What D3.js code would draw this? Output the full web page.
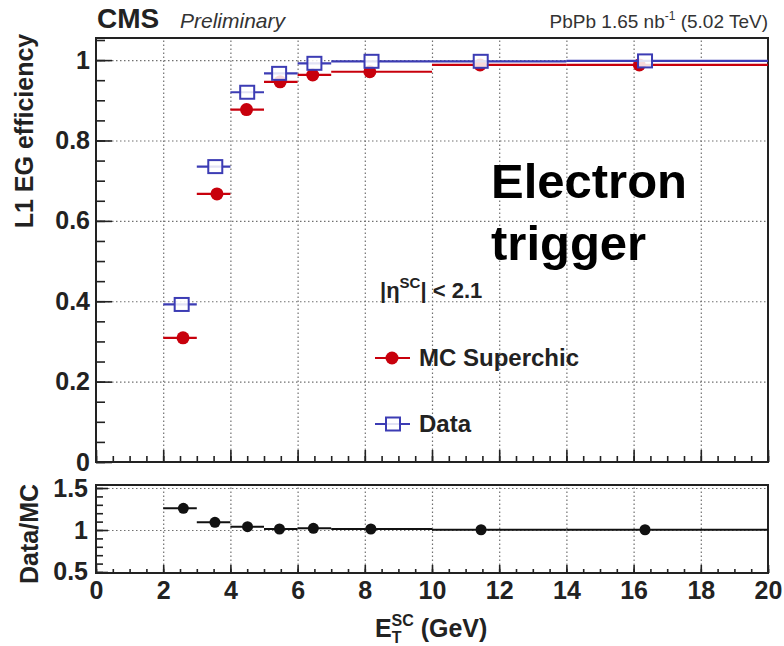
<!DOCTYPE html>
<html lang="en">
  <head>
    <meta charset="UTF-8" />
    <title>L1 EG efficiency</title>
    <script src="https://d3js.org/d3.v7.min.js"></script>
    <style>
      body {
        margin: 0;
        background-color: #ffffff;
        font-family: "Liberation Sans", Arial, sans-serif;
      }
      .grid line {
        stroke: #707070;
        stroke-width: 1.2;
        stroke-dasharray: 1.5, 2.5;
      }
      .tick text {
        font-family: "Liberation Sans", Arial, sans-serif;
        font-weight: bold;
        font-size: 25px;
        fill: #222;
      }
    </style>
  </head>
  <body>
    <div id="my_dataviz"></div>
    <script>
      // bins in E_T (GeV)
      var binLow = [2, 3, 4, 5, 6, 7, 10, 14];
      var binHigh = [3, 4, 5, 6, 7, 10, 14, 20];

      // MC Superchic efficiency
      var mcX = [2.59, 3.6, 4.48, 5.48, 6.45, 8.15, 11.43, 16.17];
      var mcEff = [0.309, 0.667, 0.877, 0.946, 0.963, 0.971, 0.988, 0.988];

      // Data efficiency
      var dataX = [2.55, 3.55, 4.5, 5.45, 6.5, 8.2, 11.45, 16.34];
      var dataEff = [0.392, 0.735, 0.92, 0.967, 0.992, 0.997, 0.997, 0.998];

      // Data / MC
      var ratioX = [2.6, 3.54, 4.51, 5.46, 6.47, 8.18, 11.46, 16.34];
      var ratio = [1.258, 1.092, 1.04, 1.012, 1.02, 1.012, 1.003, 1.003];

      var xTicks = [0, 2, 4, 6, 8, 10, 12, 14, 16, 18, 20];
      var effTicks = [0, 0.2, 0.4, 0.6, 0.8, 1];
      var ratioTicks = [0.5, 1, 1.5];

      var width = 784, height = 646;
      var left = 96, right = 768;
      var top1 = 38, bottom1 = 462;
      var top2 = 485, bottom2 = 573;

      var red = "#c8000c", blue = "#3c3cb4";

      var svg = d3
        .select("#my_dataviz")
        .append("svg")
        .attr("width", width)
        .attr("height", height);

      var x = d3.scaleLinear().domain([0, 20]).range([left, right]);
      var y = d3.scaleLinear().domain([0, 1.055]).range([bottom1, top1]);
      var yr = d3.scaleLinear().domain([0.488, 1.536]).range([bottom2, top2]);

      var minorX = d3.range(0, 20.01, 0.5);
      var minorEff = d3.range(0, 1.051, 0.05);
      var minorRatio = d3.range(0.5, 1.51, 0.1);

      function clean(g) {
        g.select(".domain").remove();
      }

      // grids
      svg.append("g").attr("class", "grid")
        .attr("transform", "translate(0," + bottom1 + ")")
        .call(d3.axisBottom(x).tickValues(xTicks.slice(1, -1)).tickSize(-(bottom1 - top1)).tickFormat(""))
        .call(clean);
      svg.append("g").attr("class", "grid")
        .attr("transform", "translate(" + left + ",0)")
        .call(d3.axisLeft(y).tickValues(effTicks.slice(1)).tickSize(-(right - left)).tickFormat(""))
        .call(clean);
      svg.append("g").attr("class", "grid")
        .attr("transform", "translate(0," + bottom2 + ")")
        .call(d3.axisBottom(x).tickValues(xTicks.slice(1, -1)).tickSize(-(bottom2 - top2)).tickFormat(""))
        .call(clean);
      svg.append("g").attr("class", "grid")
        .attr("transform", "translate(" + left + ",0)")
        .call(d3.axisLeft(yr).tickValues(ratioTicks).tickSize(-(right - left)).tickFormat(""))
        .call(clean);

      // ticks upper panel
      svg.append("g")
        .attr("transform", "translate(" + left + ",0)")
        .call(d3.axisLeft(y).tickValues(minorEff).tickSize(-9).tickFormat(""))
        .call(clean);
      svg.append("g")
        .attr("transform", "translate(" + left + ",0)")
        .call(d3.axisLeft(y).tickValues(effTicks).tickSize(-16).tickPadding(6).tickFormat(d3.format("")))
        .call(clean);
      svg.append("g")
        .attr("transform", "translate(0," + bottom1 + ")")
        .call(d3.axisBottom(x).tickValues(minorX).tickSize(-6).tickFormat(""))
        .call(clean);
      svg.append("g")
        .attr("transform", "translate(0," + bottom1 + ")")
        .call(d3.axisBottom(x).tickValues(xTicks).tickSize(-12).tickFormat(""))
        .call(clean);

      // ticks lower panel
      svg.append("g")
        .attr("transform", "translate(" + left + ",0)")
        .call(d3.axisLeft(yr).tickValues(minorRatio).tickSize(-7).tickFormat(""))
        .call(clean);
      svg.append("g")
        .attr("transform", "translate(" + left + ",0)")
        .call(d3.axisLeft(yr).tickValues(ratioTicks).tickSize(-12).tickPadding(8).tickFormat(d3.format("")))
        .call(clean);
      svg.append("g")
        .attr("transform", "translate(0," + bottom2 + ")")
        .call(d3.axisBottom(x).tickValues(minorX).tickSize(-4).tickFormat(""))
        .call(clean);
      svg.append("g")
        .attr("transform", "translate(0," + bottom2 + ")")
        .call(d3.axisBottom(x).tickValues(xTicks).tickSize(-8).tickPadding(8).tickFormat(d3.format("")))
        .call(clean);

      svg.selectAll(".tick line").filter(function () {
        return !this.parentNode.parentNode.classList.contains("grid");
      }).attr("stroke", "#222").attr("stroke-width", 1.6);

      // frames
      svg.append("rect")
        .attr("x", left).attr("y", top1)
        .attr("width", right - left).attr("height", bottom1 - top1)
        .attr("fill", "none").attr("stroke", "#222").attr("stroke-width", 2);
      svg.append("rect")
        .attr("x", left).attr("y", top2)
        .attr("width", right - left).attr("height", bottom2 - top2)
        .attr("fill", "none").attr("stroke", "#222").attr("stroke-width", 2);

      // MC Superchic
      var idx = d3.range(binLow.length);
      svg.selectAll("mcbar").data(idx).enter().append("line")
        .attr("x1", function (i) { return x(binLow[i]); })
        .attr("x2", function (i) { return x(binHigh[i]); })
        .attr("y1", function (i) { return y(mcEff[i]); })
        .attr("y2", function (i) { return y(mcEff[i]); })
        .attr("stroke", red).attr("stroke-width", 2.2);
      svg.selectAll("mcdot").data(idx).enter().append("circle")
        .attr("cx", function (i) { return x(mcX[i]); })
        .attr("cy", function (i) { return y(mcEff[i]); })
        .attr("r", 6.5)
        .attr("fill", red);

      // Data
      svg.selectAll("databar").data(idx).enter().append("line")
        .attr("x1", function (i) { return x(binLow[i]); })
        .attr("x2", function (i) { return x(binHigh[i]); })
        .attr("y1", function (i) { return y(dataEff[i]); })
        .attr("y2", function (i) { return y(dataEff[i]); })
        .attr("stroke", blue).attr("stroke-width", 2.2);
      svg.selectAll("datasq").data(idx).enter().append("rect")
        .attr("x", function (i) { return x(dataX[i]) - 7; })
        .attr("y", function (i) { return y(dataEff[i]) - 6.5; })
        .attr("width", 14).attr("height", 13)
        .attr("fill", "#fff")
        .attr("fill-opacity", 0.85)
        .attr("stroke", blue).attr("stroke-width", 2);

      // ratio
      svg.selectAll("rbar").data(idx).enter().append("line")
        .attr("x1", function (i) { return x(binLow[i]); })
        .attr("x2", function (i) { return x(binHigh[i]); })
        .attr("y1", function (i) { return yr(ratio[i]); })
        .attr("y2", function (i) { return yr(ratio[i]); })
        .attr("stroke", "#111").attr("stroke-width", 2);
      svg.selectAll("rdot").data(idx).enter().append("circle")
        .attr("cx", function (i) { return x(ratioX[i]); })
        .attr("cy", function (i) { return yr(ratio[i]); })
        .attr("r", 5.5)
        .attr("fill", "#111");

      // header texts
      svg.append("text")
        .attr("x", 97).attr("y", 28)
        .style("font-size", "28px").style("font-weight", "bold").attr("fill", "#222")
        .text("CMS");
      svg.append("text")
        .attr("x", 180).attr("y", 28)
        .style("font-size", "21px").style("font-style", "italic").attr("fill", "#333")
        .text("Preliminary");
      var lumi = svg.append("text")
        .attr("x", 768).attr("y", 28).attr("text-anchor", "end")
        .style("font-size", "19px").attr("fill", "#333");
      lumi.append("tspan").text("PbPb 1.65 nb");
      lumi.append("tspan").attr("dy", -8).style("font-size", "12px").text("-1");
      lumi.append("tspan").attr("dy", 8).text(" (5.02 TeV)");

      // axis titles
      svg.append("text")
        .attr("transform", "translate(33,131) rotate(-90)")
        .attr("text-anchor", "middle")
        .style("font-size", "25px").style("font-weight", "bold").attr("fill", "#222")
        .text("L1 EG efficiency");
      svg.append("text")
        .attr("transform", "translate(38,534) rotate(-90)")
        .attr("text-anchor", "middle")
        .style("font-size", "25px").style("font-weight", "bold").attr("fill", "#222")
        .text("Data/MC");
      var xt = svg.append("text")
        .attr("x", 375).attr("y", 637)
        .style("font-size", "25px").style("font-weight", "bold").attr("fill", "#222");
      xt.append("tspan").text("E");
      xt.append("tspan").attr("dy", 6).style("font-size", "16px").text("T");
      xt.append("tspan").attr("dx", -10).attr("dy", -17).style("font-size", "16px").text("SC");
      xt.append("tspan").attr("dy", 11).text(" (GeV)");

      // legend
      var eta = svg.append("text")
        .attr("x", 380).attr("y", 298)
        .style("font-size", "22px").style("font-weight", "bold").attr("fill", "#222");
      eta.append("tspan").text("|\u03b7");
      eta.append("tspan").attr("dy", -10).style("font-size", "15px").text("SC");
      eta.append("tspan").attr("dy", 10).text("| < 2.1");

      svg.append("line")
        .attr("x1", 375).attr("x2", 410).attr("y1", 358).attr("y2", 358)
        .attr("stroke", red).attr("stroke-width", 2.2);
      svg.append("circle")
        .attr("cx", 392).attr("cy", 358).attr("r", 6.5).attr("fill", red);
      svg.append("text")
        .attr("x", 419).attr("y", 366)
        .style("font-size", "24px").style("font-weight", "bold").attr("fill", "#222")
        .text("MC Superchic");

      svg.append("line")
        .attr("x1", 375).attr("x2", 410).attr("y1", 424).attr("y2", 424)
        .attr("stroke", blue).attr("stroke-width", 2.2);
      svg.append("rect")
        .attr("x", 386).attr("y", 417.5).attr("width", 14).attr("height", 13)
        .attr("fill", "#fff").attr("fill-opacity", 0.85)
        .attr("stroke", blue).attr("stroke-width", 2);
      svg.append("text")
        .attr("x", 419).attr("y", 432)
        .style("font-size", "24px").style("font-weight", "bold").attr("fill", "#222")
        .text("Data");

      // annotation
      svg.append("text")
        .attr("x", 491).attr("y", 198)
        .style("font-size", "49px").style("font-weight", "bold").attr("fill", "#000")
        .text("Electron");
      svg.append("text")
        .attr("x", 491).attr("y", 260)
        .style("font-size", "49px").style("font-weight", "bold").attr("fill", "#000")
        .text("trigger");
    </script>
  </body>
</html>
